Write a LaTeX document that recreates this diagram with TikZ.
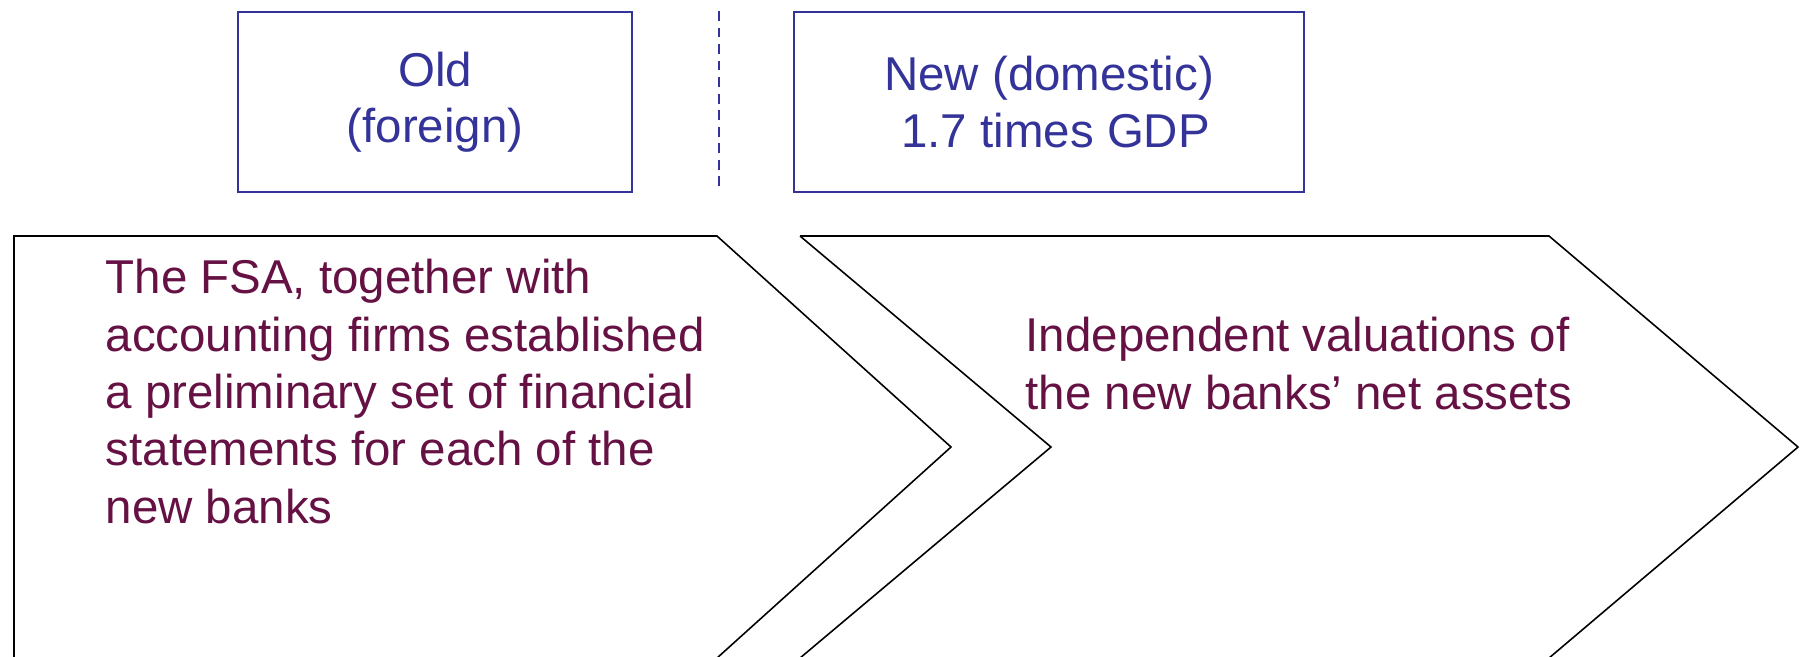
\documentclass[tikz,border=0pt]{standalone}
\usepackage{fontspec}
\setmainfont{Liberation Sans}
\usepackage{xcolor}
\definecolor{periodblue}{RGB}{51,51,153}
\definecolor{stepred}{RGB}{102,17,68}
\tikzset{
	period/.style={
			draw=periodblue, line width=0.6pt, text=periodblue,
			align=center, inner sep=0pt, minimum height=1.8cm,
			font=\fontsize{13.5}{16}\selectfont
		},
	chevron/.style={draw=black, line width=0.45pt, line join=miter},
	steptext/.style={
			text=stepred, align=left, inner sep=0pt, anchor=base west,
			font=\fontsize{13.5}{16.3}\selectfont
		}
}

\begin{document}
\begin{tikzpicture}[x=0.01cm, y=-0.01cm]
		\useasboundingbox (0, 0) rectangle (1804, 656);

		\node[period, minimum width=3.94cm] (old) at (435, 102) {Old\\(foreign)};
		\node[period, minimum width=5.10cm] (new) at (1049, 102) {New (domestic)\\{}\ 1.7 times GDP};

		\coordinate (divtop) at (719, 11);
		\coordinate (divbot) at (719, 186);
		\draw[periodblue, line width=0.6pt, dash pattern=on 2.8pt off 1.9pt] (divtop) to (divbot);

		% the two steps, cut off at the bottom
		\draw[chevron]	(14, 670) to (14, 236) to (717, 236) to (951, 447) to (717, 658);
		\draw[chevron]	(800, 236) to (1549, 236) to (1798, 447) to (1549, 658);
		\draw[chevron]	(800, 236) to (1051, 447) to (800, 658);

		% base is the last line
		\node[steptext] (fsa) at (105, 523) {The FSA, together with\\accounting firms established\\a preliminary set of financial\\statements for each of the\\new banks};
		\node[steptext] (valuation) at (1025, 409) {Independent valuations of\\the new banks’ net assets};
    \end{tikzpicture}
\end{document}
